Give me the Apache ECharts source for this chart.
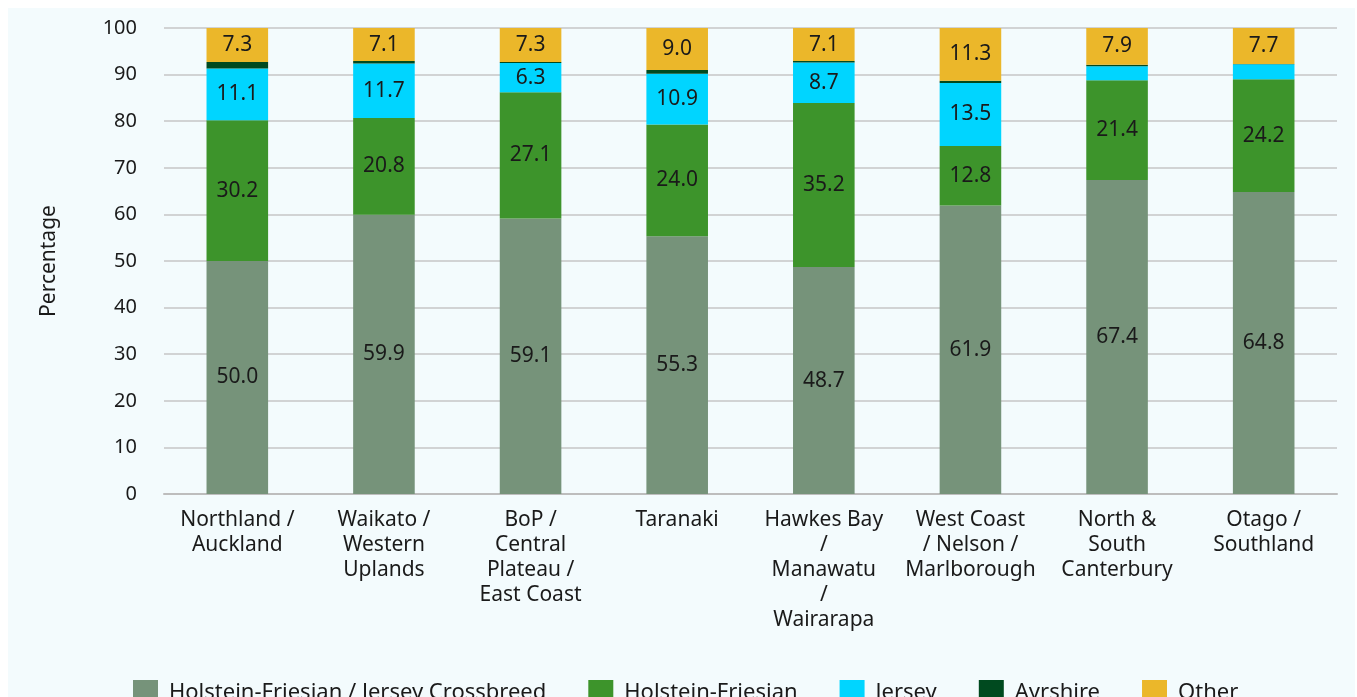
<!DOCTYPE html>
<html><head><meta charset="utf-8">
<script src="https://cdn.jsdelivr.net/npm/echarts@6/dist/echarts.min.js"></script>
<style>html,body{margin:0;padding:0;background:#fff}#c{width:1357px;height:697px}</style>
</head><body><div id="c"></div>
<script>
const categories = ['Northland /\nAuckland','Waikato /\nWestern\nUplands','BoP /\nCentral\nPlateau /\nEast Coast','Taranaki','Hawkes Bay\n/\nManawatu\n/\nWairarapa','West Coast\n/ Nelson /\nMarlborough','North &\nSouth\nCanterbury','Otago /\nSouthland'];
const crossbreed = [50.0, 59.9, 59.1, 55.3, 48.7, 61.9, 67.4, 64.8];
const holsteinFriesian = [30.2, 20.8, 27.1, 24.0, 35.2, 12.8, 21.4, 24.2];
const jersey = [11.1, 11.7, 6.3, 10.9, 8.7, 13.5, 3.0, 3.2];
const ayrshire = [1.4, 0.5, 0.2, 0.8, 0.3, 0.5, 0.3, 0.1];
const other = [7.3, 7.1, 7.3, 9.0, 7.1, 11.3, 7.9, 7.7];
const yTicks = {min: 0, max: 100, interval: 10};

const FONT = 'Noto Sans';
const lbl = {
  show: true, position: 'inside', color: '#1a1a1a', fontFamily: FONT, fontSize: 21,
  formatter: p => p.value >= 5 ? p.value.toFixed(1) : ''
};
function s(name, data, color) {
  return {name, type: 'bar', stack: 'total', data, barWidth: '42%',
    itemStyle: {color}, label: lbl, emphasis: {disabled: true}};
}
const chart = echarts.init(document.getElementById('c'));
chart.setOption({
  backgroundColor: '#ffffff',
  animation: false,
  textStyle: {fontFamily: FONT},
  graphic: [{type: 'rect', z: -10, shape: {x: 8, y: 8, width: 1347, height: 700}, style: {fill: '#f3fbfd'}}],
  grid: {left: 164, right: 20, top: 28, bottom: 203},
  legend: {
    left: 128, top: 675, itemWidth: 25, itemHeight: 26, itemGap: 42, icon: 'rect',
    textStyle: {fontFamily: FONT, fontSize: 22, color: '#1a1a1a', padding: [0, 0, 0, 6]},
    data: ['Holstein-Friesian / Jersey Crossbreed','Holstein-Friesian','Jersey','Ayrshire','Other']
  },
  xAxis: {
    type: 'category', data: categories,
    axisLine: {lineStyle: {color: '#bdbdbd', width: 2}},
    axisTick: {show: false},
    axisLabel: {interval: 0, margin: 14, fontFamily: FONT, fontSize: 21, lineHeight: 25, color: '#1a1a1a'}
  },
  yAxis: {
    type: 'value', min: yTicks.min, max: yTicks.max, interval: yTicks.interval,
    name: 'Percentage', nameLocation: 'middle', nameGap: 104, nameRotate: 90,
    nameTextStyle: {fontFamily: FONT, fontSize: 21, color: '#1a1a1a'},
    axisLine: {show: false}, axisTick: {show: false},
    axisLabel: {margin: 27, fontFamily: FONT, fontSize: 20, color: '#1a1a1a'},
    splitLine: {lineStyle: {color: '#c6c6c6', width: 1.5}}
  },
  series: [
    s('Holstein-Friesian / Jersey Crossbreed', crossbreed, '#76937a'),
    s('Holstein-Friesian', holsteinFriesian, '#3d942b'),
    s('Jersey', jersey, '#00d5ff'),
    s('Ayrshire', ayrshire, '#004a1f'),
    s('Other', other, '#ebb72a')
  ]
});
</script></body></html>
